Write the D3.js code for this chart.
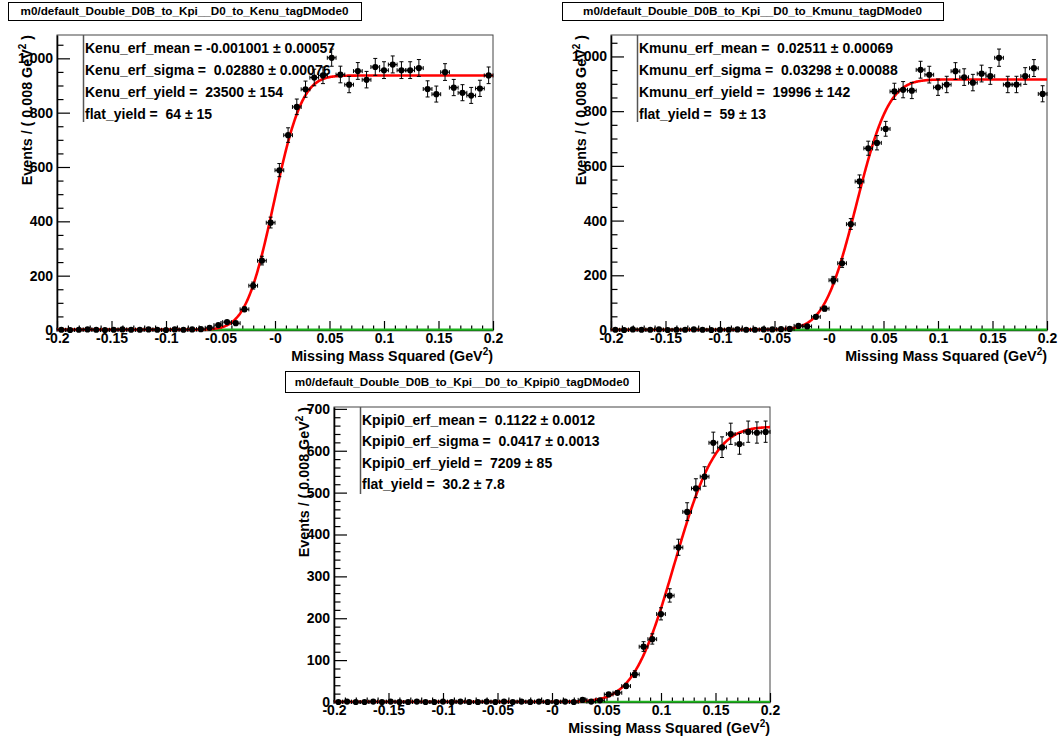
<!DOCTYPE html>
<html>
<head>
<meta charset="utf-8">
<script src="https://cdn.jsdelivr.net/npm/d3@7"></script>
<style>
  body { margin: 0; background: #fff; }
  svg { display: block; }
  text { font-family: 'Liberation Sans', Arial, Helvetica, sans-serif; font-weight: bold; }
</style>
</head>
<body>
<svg id="chart" width="1062" height="742"></svg>
<script>
// ---- binning of the missing-mass-squared histograms ----
const xMin = -0.2, xMax = 0.2, nBins = 50;
const xTickValues = [-0.2, -0.15, -0.1, -0.05, 0, 0.05, 0.1, 0.15, 0.2];
const xTickLabels = ["-0.2", "-0.15", "-0.1", "-0.05", "-0", "0.05", "0.1", "0.15", "0.2"];
const yTicksKenu = [0, 200, 400, 600, 800, 1000];
const yTicksKmunu = [0, 200, 400, 600, 800, 1000];
const yTicksKpipi0 = [0, 100, 200, 300, 400, 500, 600, 700];

// ---- events per bin ----
const kenuCounts = [1, 0, 1, 2, 1, 0, 1, 2, 1, 1, 2, 1, 0, 2, 1, 2, 3,
  8, 18, 29, 25, 76, 163, 255, 395, 588, 717, 821, 886, 929, 937, 1002, 940, 903,
  953, 921, 968, 956, 977, 956, 956, 964, 887, 868, 949, 892, 873, 863, 889, 937];
const kmunuCounts = [1, 0, 2, 1, 1, 2, 0, 1, 1, 2, 1, 0, 1, 1, 2, 1, 1, 2, 2, 3, 4,
  15, 13, 48, 78, 182, 244, 387, 543, 664, 684, 735, 872, 878, 875, 951, 933, 887,
  897, 946, 924, 904, 937, 928, 995, 897, 897, 928, 957, 863];
const kpipi0Counts = [0, 1, 0, 0, 1, 0, 1, 0, 0, 1, 0, 0, 1, 0, 1, 0, 0, 1, 0, 1, 0, 1, 0, 1, 0, 0,
  1, 0, 5, 1, 4,
  18, 22, 38, 66, 132, 150, 210, 254, 369, 454, 510, 538, 619, 608, 640, 616, 645, 643, 645];

// ---- fit results (erf signal + flat background) ----
const fitMean  = [-0.001001, 0.02511, 0.1122];
const fitSigma = [0.02880, 0.03298, 0.0417];
const sigYield = [23500, 19996, 7209];
const flatYield = [64, 59, 30.2];

const panelTitles = [
  "m0/default_Double_D0B_to_Kpi__D0_to_Kenu_tagDMode0",
  "m0/default_Double_D0B_to_Kpi__D0_to_Kmunu_tagDMode0",
  "m0/default_Double_D0B_to_Kpi__D0_to_Kpipi0_tagDMode0"
];
const statLinesKenu = ["Kenu_erf_mean = -0.001001 \u00b1 0.00057", "Kenu_erf_sigma =  0.02880 \u00b1 0.00076",
  "Kenu_erf_yield =  23500 \u00b1 154", "flat_yield =  64 \u00b1 15"];
const statLinesKmunu = ["Kmunu_erf_mean =  0.02511 \u00b1 0.00069", "Kmunu_erf_sigma =  0.03298 \u00b1 0.00088",
  "Kmunu_erf_yield =  19996 \u00b1 142", "flat_yield =  59 \u00b1 13"];
const statLinesKpipi0 = ["Kpipi0_erf_mean =  0.1122 \u00b1 0.0012", "Kpipi0_erf_sigma =  0.0417 \u00b1 0.0013",
  "Kpipi0_erf_yield =  7209 \u00b1 85", "flat_yield =  30.2 \u00b1 7.8"];

const xAxisTitle = ["Missing Mass Squared (GeV", "2", ")"];
const yAxisTitle = ["Events / ( 0.008 GeV", "2", " )"];

// ---- pad geometry ----
const pads = [
  { counts: kenuCounts, yTicks: yTicksKenu, yMinorStep: 50, stats: statLinesKenu,
    left: 57, top: 35, w: 436, h: 295, box: [8, 2, 353, 18], statStep: 22.2 },
  { counts: kmunuCounts, yTicks: yTicksKmunu, yMinorStep: 50, stats: statLinesKmunu,
    left: 611, top: 35, w: 436, h: 295, box: [562, 2, 381, 18], statStep: 22.2 },
  { counts: kpipi0Counts, yTicks: yTicksKpipi0, yMinorStep: 20, stats: statLinesKpipi0,
    left: 334, top: 407, w: 436, h: 295, box: [285, 371, 354, 21], statStep: 21.4 }
];

const binWidth = (xMax - xMin) / nBins;
const binCenters = d3.range(nBins).map(i => xMin + (i + 0.5) * binWidth);

function erf(v) {
  const s = v < 0 ? -1 : 1;
  const a = Math.abs(v);
  const t = 1 / (1 + 0.3275911 * a);
  const y = 1 - (((((1.061405429 * t - 1.453152027) * t) + 1.421413741) * t - 0.284496736) * t + 0.254829592) * t * Math.exp(-a * a);
  return s * y;
}

const svg = d3.select("#chart");

pads.forEach((p, k) => {
  const g = svg.append("g");
  const right = p.left + p.w, bottom = p.top + p.h;

  // Poisson-style asymmetric errors
  const pts = p.counts.map((n, i) => ({
    x: binCenters[i], n,
    lo: n + 0.5 - Math.sqrt(n + 0.25),
    hi: n + 0.5 + Math.sqrt(n + 0.25)
  }));
  const yMax = 1.05 * d3.max(pts, d => d.hi);

  const x = d3.scaleLinear().domain([xMin, xMax]).range([p.left, right]);
  const y = d3.scaleLinear().domain([0, yMax]).range([bottom, p.top]);

  // fit model (normalised over the plotted range, expressed per bin)
  const shape = v => 0.5 * (1 + erf((v - fitMean[k]) / fitSigma[k]));
  const nInt = 2000, dx = (xMax - xMin) / nInt;
  let integral = 0;
  for (let i = 0; i < nInt; i++) integral += shape(xMin + (i + 0.5) * dx) * dx;
  const flatLevel = binWidth * flatYield[k] / (xMax - xMin);
  const total = v => binWidth * sigYield[k] * shape(v) / integral + flatLevel;

  // frame
  g.append("rect").attr("x", p.left).attr("y", p.top).attr("width", p.w).attr("height", p.h)
    .attr("fill", "#fff").attr("stroke", "#444").attr("stroke-width", 1);

  // title box
  const [bx, by, bw, bh] = p.box;
  g.append("rect").attr("x", bx + 0.5).attr("y", by + 0.5).attr("width", bw).attr("height", bh)
    .attr("fill", "#fff").attr("stroke", "#000").attr("stroke-width", 1);
  g.append("text").attr("x", bx + bw / 2).attr("y", by + bh / 2 + 4.2)
    .attr("text-anchor", "middle").attr("font-size", 11.7).text(panelTitles[k]);

  // axes: major ticks + labels
  const xAxis = d3.axisBottom(x).tickValues(xTickValues)
    .tickFormat((d, i) => xTickLabels[i]).tickSize(-9).tickSizeOuter(0).tickPadding(3);
  const gx = g.append("g").attr("transform", `translate(0,${bottom})`).call(xAxis);
  const xMinor = d3.range(-20, 21).map(v => v / 100).filter(v => Math.round(v * 100) % 5 !== 0);
  const gxm = g.append("g").attr("transform", `translate(0,${bottom})`)
    .call(d3.axisBottom(x).tickValues(xMinor).tickFormat("").tickSize(-4.5).tickSizeOuter(0));
  gxm.select(".domain").remove();

  const yAxis = d3.axisLeft(y).tickValues(p.yTicks).tickSize(-13).tickSizeOuter(0).tickPadding(4);
  const gy = g.append("g").attr("transform", `translate(${p.left},0)`).call(yAxis);
  const yMinor = d3.range(0, yMax, p.yMinorStep).filter(v => !p.yTicks.includes(v));
  const gym = g.append("g").attr("transform", `translate(${p.left},0)`)
    .call(d3.axisLeft(y).tickValues(yMinor).tickFormat("").tickSize(-6.5).tickSizeOuter(0));
  gym.select(".domain").remove();

  [gx, gy, gxm, gym].forEach(a => {
    a.attr("font-size", null).attr("font-family", null);
    a.selectAll("text").attr("font-size", 14).attr("fill", "#000");
    a.selectAll("line").attr("stroke", "#000").attr("stroke-width", 1.2);
    a.selectAll(".domain").attr("stroke", "#000").attr("stroke-width", 1.6);
  });

  // stats panel
  const sx = p.left + 26.5;
  g.append("line").attr("x1", sx).attr("x2", sx).attr("y1", p.top).attr("y2", p.top + 87)
    .attr("stroke", "#555").attr("stroke-width", 1.5);
  p.stats.forEach((s, i) => {
    g.append("text").attr("x", sx + 1.5).attr("y", p.top + 17.8 + i * p.statStep)
      .attr("font-size", 14).style("white-space", "pre").text(s);
  });

  // flat background component
  g.append("line").attr("x1", x(xMin)).attr("x2", x(xMax))
    .attr("y1", y(flatLevel)).attr("y2", y(flatLevel))
    .attr("stroke", "#1fb51f").attr("stroke-width", 2.2);

  // total fit curve
  const grid = d3.range(0, 601).map(i => xMin + i * (xMax - xMin) / 600);
  g.append("path").datum(grid)
    .attr("d", d3.line().x(v => x(v)).y(v => y(total(v))))
    .attr("fill", "none").attr("stroke", "#ff0000").attr("stroke-width", 2.6);

  // data points with error bars
  const cap = 2;
  const pg = g.append("g").attr("stroke", "#000").attr("stroke-width", 1);
  pts.forEach(d => {
    const cx = x(d.x), cy = y(d.n);
    const xl = x(d.x - binWidth / 2), xr = x(d.x + binWidth / 2);
    const yl = y(d.lo), yh = y(d.hi);
    pg.append("line").attr("x1", xl).attr("x2", xr).attr("y1", cy).attr("y2", cy);
    pg.append("line").attr("x1", xl).attr("x2", xl).attr("y1", cy - cap).attr("y2", cy + cap);
    pg.append("line").attr("x1", xr).attr("x2", xr).attr("y1", cy - cap).attr("y2", cy + cap);
    pg.append("line").attr("x1", cx).attr("x2", cx).attr("y1", yl).attr("y2", yh);
    pg.append("line").attr("x1", cx - cap).attr("x2", cx + cap).attr("y1", yl).attr("y2", yl);
    pg.append("line").attr("x1", cx - cap).attr("x2", cx + cap).attr("y1", yh).attr("y2", yh);
    pg.append("circle").attr("cx", cx).attr("cy", cy).attr("r", 3.1).attr("fill", "#000").attr("stroke", "none");
  });

  // axis titles
  const xt = g.append("text").attr("x", right).attr("y", bottom + 31)
    .attr("text-anchor", "end").attr("font-size", 14.3);
  xt.append("tspan").text(xAxisTitle[0]);
  xt.append("tspan").attr("font-size", 10).attr("dy", -6).text(xAxisTitle[1]);
  xt.append("tspan").attr("dy", 6).text(xAxisTitle[2]);

  const yt = g.append("text").attr("transform", `translate(${p.left - 25.3},${p.top}) rotate(-90)`)
    .attr("text-anchor", "end").attr("font-size", 14.3).style("white-space", "pre");
  yt.append("tspan").text(yAxisTitle[0]);
  yt.append("tspan").attr("font-size", 10).attr("dy", -6).text(yAxisTitle[1]);
  yt.append("tspan").attr("dy", 6).text(yAxisTitle[2]);
});
</script>
</body>
</html>
